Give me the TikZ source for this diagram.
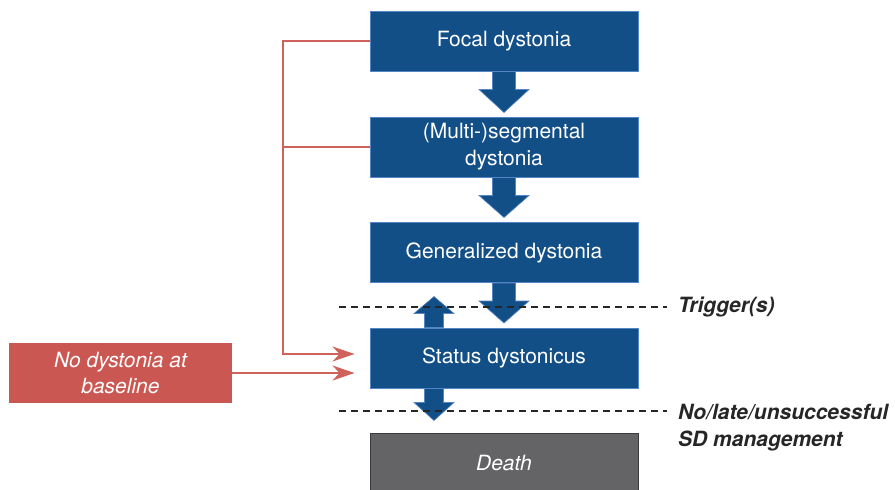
\documentclass[tikz,border=0pt]{standalone}
\usepackage{fontspec}
\setmainfont{TeX Gyre Heros}
\usetikzlibrary{arrows.meta,calc}

\definecolor{boxblue}{HTML}{134F87}
\definecolor{boxedge}{HTML}{5485C4}
\definecolor{redfill}{HTML}{CB5752}
\definecolor{redline}{HTML}{D0625C}
\definecolor{deathgray}{HTML}{646466}
\definecolor{deathedge}{HTML}{3A3A3A}

% block arrow: start point, direction (1 = down, -1 = up),
% shaft half width, head half width, shaft length, head length
\newcommand\blockarrow[6]{%
  \filldraw[blockarrowstyle] (#1) ++(-#3,0) -- ++(0,{#2*#5})
    -- ++({-(#4-#3)},0) -- ++(#4,{#2*#6}) -- ++(#4,{-#2*#6})
    -- ++({-(#4-#3)},0) -- ++(0,{-#2*#5}) -- cycle;}

\begin{document}
\begin{tikzpicture}[x=1pt,y=-1pt,
  basefont/.style={font=\fontsize{21}{27}\selectfont},
  stage/.style={basefont, draw=boxedge, line width=1pt, fill=boxblue,
    text=white, minimum width=268pt, minimum height=60pt, inner sep=0pt,
    align=center},
  deathbox/.style={stage, draw=deathedge, fill=deathgray,
    font=\fontsize{21}{27}\selectfont\itshape},
  redbox/.style={font=\fontsize{21}{26}\selectfont\itshape, fill=redfill,
    text=white, minimum width=223pt, minimum height=60pt, inner sep=0pt,
    align=center},
  blockarrowstyle/.style={fill=boxblue, draw=boxedge, line width=0.6pt},
  redconn/.style={draw=redline, line width=1.8pt},
  redarrow/.style={redconn, -{Stealth[length=22pt,width=15pt,inset=7pt]},
    shorten >=15pt},
  threshold/.style={draw=black!85, line width=1.3pt, dash pattern=on 7pt off 5pt},
  note/.style={font=\fontsize{21}{27}\selectfont\bfseries\itshape,
    text=black!85, inner sep=0pt, align=left}
]
\clip (0,0) rectangle (895,490);

% stages of the disease
\node[stage] (focal) at (504,41) {\raisebox{-1.5pt}{Focal dystonia}};
\node[stage] (multi) at (504,147) {(Multi-)segmental\\dystonia};
\node[stage] (gen) at (504,252.5) {\raisebox{-1.5pt}{Generalized dystonia}};
\node[stage] (sd) at (504,358) {\raisebox{-1.5pt}{Status dystonicus}};
\node[deathbox] (death) at (504,463) {Death};
\node[redbox] (base) at (120.5,373) {No dystonia at\\baseline};

% progression arrows
\blockarrow{focal.south}{1}{11.5}{25}{18}{23}
\blockarrow{multi.south}{1}{11.5}{25}{18}{22}
\blockarrow{gen.south}{1}{11.5}{25}{18}{22}
\blockarrow{$(sd.north)+(-70,0)$}{-1}{9.5}{20}{14}{17}
\blockarrow{$(sd.south)+(-70,0)$}{1}{9.5}{20}{14}{18}

% direct routes into status dystonicus
\coordinate (bend) at (283,354);
\draw[redarrow] (focal.west) -| (bend) -- (bend -| sd.west);
\draw[redconn] (multi.west) -- (multi.west -| bend);
\draw[redarrow] (base.east) -- (base.east -| sd.west);

% thresholds
\coordinate (trigL) at (339,307);
\coordinate (trigR) at (667,307);
\coordinate (mgmtL) at (339,411);
\coordinate (mgmtR) at (667,411);
\draw[threshold] (trigL) -- (trigR);
\draw[threshold] (mgmtL) -- (mgmtR);
\node[note, anchor=west] (trig) at ($(trigR)+(11,0)$) {Trigger(s)};
\node[note, anchor=north west] (mgmt) at ($(mgmtR)+(11,-7.5)$)
  {No/late/unsuccessful\\SD management};
\end{tikzpicture}
\end{document}
